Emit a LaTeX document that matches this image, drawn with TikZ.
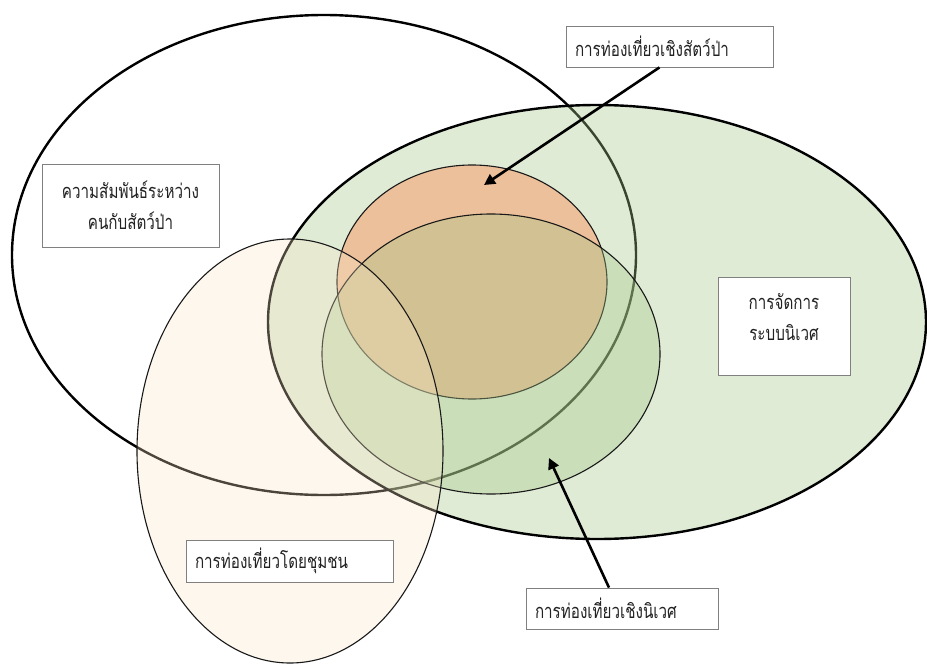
\documentclass[tikz,border=0pt]{standalone}
\usepackage{fontspec}
\newfontfamily\thaifont[Script=Thai, FakeStretch=0.76]{Loma}
\usetikzlibrary{arrows.meta}
\definecolor{leafgreen}{RGB}{164,198,135}
\definecolor{peach}{RGB}{236,192,154}
\definecolor{creamfill}{RGB}{250,230,200}
\definecolor{boxgray}{RGB}{128,128,128}
\definecolor{inkgray}{RGB}{34,34,34}
\tikzset{
  bigring/.style={draw=black, line width=2.4pt},
  smallring/.style={draw=black!90, line width=1.1pt},
  labelbox/.style={draw=boxgray, line width=0.8pt, fill=white, inner sep=0pt,
    font=\thaifont\fontsize{20}{31}\selectfont, text=inkgray},
  labeltext/.style={inner sep=0pt, font=\thaifont\fontsize{20}{31}\selectfont, text=inkgray},
  pointer/.style={draw=black, line width=2.6pt,
    -{Triangle[length=11pt,width=11pt]}}
}
\begin{document}
\begin{tikzpicture}[x=1pt,y=-1pt]
\useasboundingbox[fill=white] (0,0) rectangle (927,664);
% big ellipses
\draw[bigring, fill=white] (324,255) ellipse [x radius=312, y radius=240];
\fill[leafgreen, fill opacity=0.35] (597,322) ellipse [x radius=329, y radius=217];
\draw[bigring] (597,322) ellipse [x radius=329, y radius=217];
% wildlife tourism
\draw[smallring, fill=peach] (472,282) ellipse [x radius=135, y radius=117];
% ecotourism
\draw[smallring, fill=leafgreen, fill opacity=0.35] (491,354) ellipse [x radius=169, y radius=140];
% community tourism
\draw[smallring, fill=creamfill, fill opacity=0.3] (290,451) ellipse [x radius=153, y radius=212];
% label boxes
\node[labelbox, minimum width=207pt, minimum height=41pt, text width=189pt, align=left] (wild) at (669.5,46.5) {การท่องเที่ยวเชิงสัตว์ป่า};
\node[labelbox, minimum width=177pt, minimum height=83pt, align=center] (rel) at (130.5,205.5) {ความสัมพันธ์ระหว่าง\\คนกับสัตว์ป่า};
\node[labelbox, minimum width=132pt, minimum height=98pt] (mgmt) at (784,326) {};
\node[labeltext, align=center] (mgmtlabel) at (784,317) {การจัดการ\\ระบบนิเวศ};
\node[labelbox, minimum width=207pt, minimum height=42pt, text width=189pt, align=left] (comm) at (289.5,561) {การท่องเที่ยวโดยชุมชน};
\node[labelbox, minimum width=192pt, minimum height=41pt, text width=174pt, align=left] (eco) at (622,608.5) {การท่องเที่ยวเชิงนิเวศ};
% arrows
\coordinate (wildtip) at (484,185);
\coordinate (ecotip) at (549,458);
\draw[pointer] ([xshift=-10pt]wild.south) -- (wildtip);
\draw[pointer] ([xshift=-13pt]eco.north) -- (ecotip);
\end{tikzpicture}
\end{document}
